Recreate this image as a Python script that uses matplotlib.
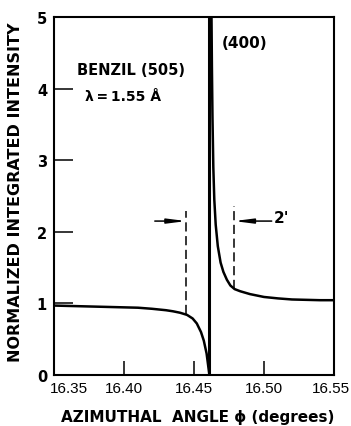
import matplotlib
matplotlib.use("Agg")
import matplotlib.pyplot as plt
import matplotlib.transforms as mtransforms

# Data
left_phi = [16.35, 16.36, 16.37, 16.38, 16.39, 16.40, 16.41, 16.42, 16.43, 16.435,
            16.44, 16.445, 16.449, 16.452, 16.455, 16.457, 16.459, 16.460, 16.461]
left_int = [0.97, 0.965, 0.96, 0.955, 0.95, 0.945, 0.94, 0.925, 0.905, 0.89,
            0.87, 0.84, 0.79, 0.72, 0.60, 0.48, 0.30, 0.15, 0.0]
right_phi = [16.4625, 16.4628, 16.4632, 16.4638, 16.4645, 16.4655, 16.467, 16.469,
             16.471, 16.4735, 16.476, 16.479, 16.483, 16.49, 16.50, 16.51, 16.52,
             16.53, 16.54, 16.55]
right_int = [5.0, 4.3, 3.6, 2.9, 2.45, 2.1, 1.8, 1.57, 1.44, 1.33, 1.25, 1.2, 1.17,
             1.13, 1.09, 1.07, 1.055, 1.05, 1.045, 1.045]
peak_phi = 16.461
dash_left = (16.4445, 0.85, 2.29)
dash_right = (16.4786, 1.20, 2.36)
arrow_y = 2.15
arrow_left_start = 16.422
arrow_right_start = 16.5055

xticks = [16.35, 16.40, 16.45, 16.50, 16.55]
xticklabels = ["16.35", "16.40", "16.45", "16.50", "16.55"]
yticks = [0, 1, 2, 3, 4, 5]
yticklabels = ["0", "1", "2", "3", "4", "5"]

plt.rcParams['font.family'] = ['DejaVu Sans']
fig = plt.figure(figsize=(3.51, 4.27), dpi=100)
ax = fig.add_axes([0.1538, 0.1194, 0.7978, 0.8384])

ax.plot(left_phi, left_int, color='black', lw=1.8, solid_capstyle='butt')
ax.plot(right_phi, right_int, color='black', lw=1.8)
ax.vlines(peak_phi, 0, 5, color='black', lw=2.2)

ax.vlines(dash_left[0], dash_left[1], dash_left[2], color='black', lw=1.1,
          linestyles=(0, (6, 3)))
ax.vlines(dash_right[0], dash_right[1], dash_right[2], color='black', lw=1.1,
          linestyles=(0, (6, 3)))

ap = dict(arrowstyle='-|>,head_length=1.1,head_width=0.14', color='black', lw=1.1,
          mutation_scale=10, shrinkA=0, shrinkB=0)
ax.annotate('', xy=(dash_left[0], arrow_y), xytext=(arrow_left_start, arrow_y),
            arrowprops=ap)
ax.annotate('', xy=(dash_right[0], arrow_y), xytext=(arrow_right_start, arrow_y),
            arrowprops=ap)

ax.text(16.5068, 2.2, "2'", fontsize=11, fontweight='bold', ha='left', va='center')
ax.text(16.3664, 4.27, "BENZIL (505)", fontsize=10.5, fontweight='bold', ha='left', va='center')
ax.text(16.372, 3.9, "λ\u2009=\u20091.55 Å", fontsize=10, fontweight='bold', ha='left', va='center')
ax.text(16.470, 4.65, "(400)", fontsize=11, fontweight='bold', ha='left', va='center')

ax.set_xlim(16.35, 16.55)
ax.set_ylim(0, 5)
ax.set_xticks(xticks)
ax.set_xticklabels(xticklabels, fontsize=11, family=['Liberation Sans', 'DejaVu Sans'])
ax.set_yticks(yticks)
ax.set_yticklabels(yticklabels, fontsize=10.5, fontweight='bold')
ax.tick_params(axis='x', direction='in', length=10, width=1.1, pad=4)
ax.tick_params(axis='y', direction='in', length=14, width=1.1, pad=5)
lbls = ax.get_xticklabels()
lbls[0].set_ha('left')
lbls[0].set_transform(lbls[0].get_transform() +
                      mtransforms.ScaledTranslation(-4 / 100, 0, fig.dpi_scale_trans))
lbls[-1].set_transform(lbls[-1].get_transform() +
                       mtransforms.ScaledTranslation(-3 / 100, 0, fig.dpi_scale_trans))
for s in ax.spines.values():
    s.set_linewidth(1.5)

ax.set_xlabel("AZIMUTHAL  ANGLE ϕ (degrees)", fontsize=11, fontweight='bold')
ax.set_ylabel("NORMALIZED INTEGRATED INTENSITY", fontsize=11.5, fontweight='bold')
ax.xaxis.set_label_coords(0.514, -0.094)
ax.yaxis.set_label_coords(-0.109, 0.513)

fig.savefig("out.png", dpi=100)
